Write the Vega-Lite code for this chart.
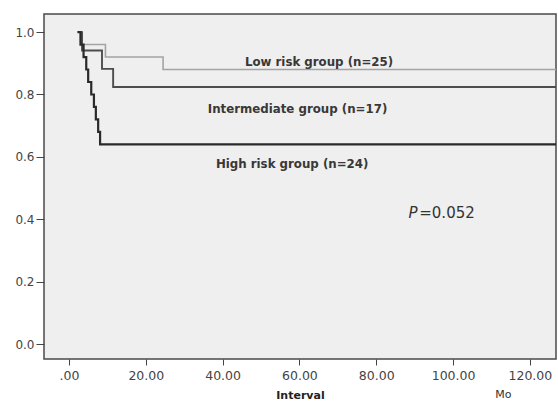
{
  "$schema": "https://vega.github.io/schema/vega-lite/v6.json",
  "width": 512,
  "height": 345,
  "autosize": {"type": "none"},
  "padding": {"left": 44, "top": 14, "right": 2, "bottom": 44},
  "background": "white",
  "config": {
    "view": {"fill": "#efefef", "stroke": "#4a4a4a", "strokeWidth": 1.5},
    "font": "DejaVu Sans",
    "axis": {"domain": false, "grid": false, "tickColor": "#444", "labelColor": "#444", "labelFont": "DejaVu Sans", "labelFontSize": 12, "titleFont": "DejaVu Sans"}
  },
  "datasets": {
    "curves": [
      {"group": "Low", "t": 2.4, "s": 1.0},
      {"group": "Low", "t": 3.2, "s": 0.96},
      {"group": "Low", "t": 9.5, "s": 0.92},
      {"group": "Low", "t": 24.5, "s": 0.88},
      {"group": "Low", "t": 130, "s": 0.88},
      {"group": "Intermediate", "t": 2.6, "s": 1.0},
      {"group": "Intermediate", "t": 3.4, "s": 0.941},
      {"group": "Intermediate", "t": 8.6, "s": 0.882},
      {"group": "Intermediate", "t": 11.5, "s": 0.824},
      {"group": "Intermediate", "t": 130, "s": 0.824},
      {"group": "High", "t": 2.2, "s": 1.0},
      {"group": "High", "t": 3.0, "s": 0.96},
      {"group": "High", "t": 3.8, "s": 0.92},
      {"group": "High", "t": 4.5, "s": 0.88},
      {"group": "High", "t": 5.0, "s": 0.84},
      {"group": "High", "t": 5.8, "s": 0.8},
      {"group": "High", "t": 6.5, "s": 0.76},
      {"group": "High", "t": 7.0, "s": 0.72},
      {"group": "High", "t": 7.6, "s": 0.68},
      {"group": "High", "t": 8.1, "s": 0.64},
      {"group": "High", "t": 130, "s": 0.64}
    ],
    "labels": [
      {"label": "Low risk group (n=25)", "t": 65.1, "s": 0.903},
      {"label": "Intermediate group (n=17)", "t": 59.5, "s": 0.755},
      {"label": "High risk group (n=24)", "t": 58.1, "s": 0.577}
    ]
  },
  "layer": [
    {
      "data": {"name": "curves"},
      "mark": {"type": "line", "interpolate": "step-after", "clip": true},
      "encoding": {
        "x": {"field": "t", "type": "quantitative", "scale": {"domain": [-6.5, 126.8], "nice": false, "zero": false},
          "axis": {"values": [0, 20, 40, 60, 80, 100, 120], "labelExpr": "datum.value == 0 ? '.00' : format(datum.value, '.2f')", "tickSize": 6, "labelPadding": 4, "labelFontSize": 12.5, "title": "Interval", "titleFontSize": 11, "titleFontWeight": "bold", "titleColor": "#222", "titlePadding": 8}},
        "y": {"field": "s", "type": "quantitative", "scale": {"domain": [-0.048, 1.058], "nice": false, "zero": false},
          "axis": {"values": [0, 0.2, 0.4, 0.6, 0.8, 1.0], "format": ".1f", "tickSize": 8, "labelPadding": 2, "title": null}},
        "detail": {"field": "group"},
        "order": {"field": "t", "type": "quantitative"},
        "color": {"field": "group", "type": "nominal", "scale": {"domain": ["Low", "Intermediate", "High"], "range": ["#a4a4a4", "#4d4d4d", "#2a2a2a"]}, "legend": null},
        "strokeWidth": {"field": "group", "type": "nominal", "scale": {"domain": ["Low", "Intermediate", "High"], "range": [1.6, 2.2, 2.5]}, "legend": null}
      }
    },
    {
      "data": {"name": "labels"},
      "mark": {"type": "text", "fontSize": 11.8, "fontWeight": "bold", "color": "#383838", "align": "center", "baseline": "middle"},
      "encoding": {
        "x": {"field": "t", "type": "quantitative"},
        "y": {"field": "s", "type": "quantitative"},
        "text": {"field": "label"}
      }
    },
    {
      "data": {"values": [{"label": "P", "t": 88.4, "s": 0.42}]},
      "mark": {"type": "text", "fontSize": 15, "fontStyle": "italic", "color": "#333", "align": "left", "baseline": "middle"},
      "encoding": {
        "x": {"field": "t", "type": "quantitative"},
        "y": {"field": "s", "type": "quantitative"},
        "text": {"field": "label"}
      }
    },
    {
      "data": {"values": [{"label": "=0.052", "t": 91.2, "s": 0.42}]},
      "mark": {"type": "text", "fontSize": 15, "color": "#333", "align": "left", "baseline": "middle"},
      "encoding": {
        "x": {"field": "t", "type": "quantitative"},
        "y": {"field": "s", "type": "quantitative"},
        "text": {"field": "label"}
      }
    },
    {
      "data": {"values": [{"label": "Mo", "t": 113.1, "s": -0.163}]},
      "mark": {"type": "text", "fontSize": 11, "color": "#333", "align": "center", "baseline": "middle"},
      "encoding": {
        "x": {"field": "t", "type": "quantitative"},
        "y": {"field": "s", "type": "quantitative"},
        "text": {"field": "label"}
      }
    }
  ]
}
